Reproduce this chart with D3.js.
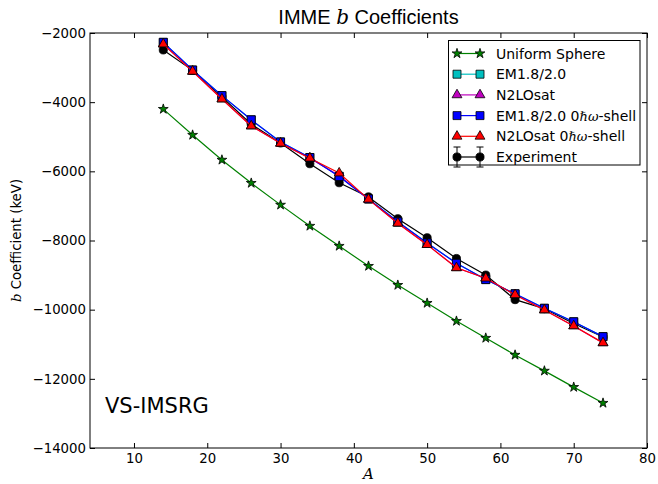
<!DOCTYPE html>
<html><head><meta charset="utf-8">
<script src="https://cdn.jsdelivr.net/npm/d3@7"></script>
<style>body{margin:0;background:#fff} svg{display:block}</style>
</head><body><svg id="c" width="658" height="484"></svg>
<script>
const massNumbers = [14,18,22,26,30,34,38,42,46,50,54,58,62,66,70,74];
const uniformSphere = [-4200,-4950,-5670,-6340,-6970,-7580,-8160,-8740,-9290,-9810,-10330,-10820,-11310,-11770,-12240,-12700];
const em1820 = [-2270,-3070,-3810,-4510,-5150,-5600,-6140,-6800,-7460,-8070,-8660,-9130,-9540,-9960,-10350,-10780];
const n2losat = [-2320,-3110,-3910,-4690,-5190,-5620,-6130,-6810,-7500,-8120,-8790,-9090,-9570,-10010,-10470,-10960];
const em1820Shell = [-2270,-3070,-3810,-4510,-5150,-5600,-6150,-6800,-7460,-8070,-8660,-9130,-9540,-9960,-10350,-10780];
const n2losatShell = [-2320,-3110,-3910,-4690,-5190,-5620,-6050,-6810,-7500,-8120,-8790,-9090,-9570,-10010,-10470,-10960];
const experiment = [-2490,-3080,-3850,-4640,-5180,-5780,-6330,-6740,-7370,-7920,-8520,-9000,-9710,-9970,-10400,-10790];
const xTicks = [10,20,30,40,50,60,70,80];
const yTicks = [-14000,-12000,-10000,-8000,-6000,-4000,-2000];

const L = 90, R = 647, T = 33, B = 448;
const svg = d3.select('#c');
const x = d3.scaleLinear().domain([4,80]).range([L,R]);
const y = d3.scaleLinear().domain([-14000,-2000]).range([B,T]);
const fmt = d => String(d).replace('-', '\u2212');
const tickFont = 'DejaVu Sans';

const series = [
  {name:'Experiment', vals:experiment, color:'#000000', sym:d3.symbolCircle, size:52},
  {name:'Uniform Sphere', vals:uniformSphere, color:'#008000', sym:d3.symbolStar, size:30},
  {name:'EM1.8/2.0', vals:em1820, color:'#00bfbf', sym:d3.symbolSquare, size:64},
  {name:'N2LOsat', vals:n2losat, color:'#bf00bf', sym:d3.symbolTriangle, size:42},
  {name:'EM1.8/2.0 shell', vals:em1820Shell, color:'#0000ff', sym:d3.symbolSquare, size:64},
  {name:'N2LOsat shell', vals:n2losatShell, color:'#ff0000', sym:d3.symbolTriangle, size:42}
];

const plot = svg.append('g');
const line = d3.line().x((d,i)=>x(massNumbers[i])).y(d=>y(d));
series.forEach(s => {
  plot.append('path').attr('d', line(s.vals)).attr('fill','none')
    .attr('stroke', s.color).attr('stroke-width', 1.2);
  plot.selectAll(null).data(s.vals).enter().append('path')
    .attr('transform', (d,i)=>`translate(${x(massNumbers[i])},${y(d)})`)
    .attr('d', d3.symbol().type(s.sym).size(s.size))
    .attr('fill', s.color).attr('stroke', '#000').attr('stroke-width', 0.8);
});

// axes with inward ticks
function styleAxis(g){ g.select('.domain').remove(); g.selectAll('line').attr('stroke','#000');
  g.selectAll('text').attr('font-family', tickFont).attr('font-size', 13.3).attr('fill','#000'); }
svg.append('g').attr('transform',`translate(0,${B})`)
  .call(d3.axisBottom(x).tickValues(xTicks).tickSizeInner(-5).tickSizeOuter(0).tickPadding(6).tickFormat(fmt)).call(styleAxis);
svg.append('g').attr('transform',`translate(0,${T})`)
  .call(d3.axisTop(x).tickValues(xTicks).tickSizeInner(-5).tickSizeOuter(0).tickFormat('')).call(styleAxis);
svg.append('g').attr('transform',`translate(${L},0)`)
  .call(d3.axisLeft(y).tickValues(yTicks).tickSizeInner(-5).tickSizeOuter(0).tickPadding(4).tickFormat(fmt)).call(styleAxis);
svg.append('g').attr('transform',`translate(${R},0)`)
  .call(d3.axisRight(y).tickValues(yTicks).tickSizeInner(-5).tickSizeOuter(0).tickFormat('')).call(styleAxis);
svg.append('rect').attr('x',L).attr('y',T).attr('width',R-L).attr('height',B-T)
  .attr('fill','none').attr('stroke','#000').attr('stroke-width',1);

// title
const title = svg.append('text').attr('x',(L+R)/2).attr('y',24).attr('text-anchor','middle')
  .attr('font-family','Liberation Sans').attr('font-size',20);
title.append('tspan').text('IMME ');
title.append('tspan').attr('font-family','DejaVu Serif').attr('font-style','italic').text('b');
title.append('tspan').text(' Coefficients');

// axis labels
const yl = svg.append('text').attr('transform',`translate(21,${(T+B)/2}) rotate(-90)`)
  .attr('text-anchor','middle').attr('font-family',tickFont).attr('font-size',13.3);
yl.append('tspan').attr('font-family','DejaVu Serif').attr('font-style','italic').text('b');
yl.append('tspan').text(' Coefficient (keV)');
svg.append('text').attr('x',(L+R)/2).attr('y',479).attr('text-anchor','middle')
  .attr('font-family','DejaVu Serif').attr('font-style','italic').attr('font-size',15).text('A');

// annotation
svg.append('text').attr('x',105).attr('y',413).attr('font-family',tickFont).attr('font-size',21).text('VS-IMSRG');

// legend
const legendItems = [
  {label:['Uniform Sphere'], s:series[1]},
  {label:['EM1.8/2.0'], s:series[2]},
  {label:['N2LOsat'], s:series[3]},
  {label:['EM1.8/2.0 0','\u210F\u03C9','-shell'], s:series[4]},
  {label:['N2LOsat 0','\u210F\u03C9','-shell'], s:series[5]},
  {label:['Experiment'], s:series[0], err:true}
];
svg.append('rect').attr('x',448.5).attr('y',40.5).attr('width',191.5).attr('height',124.5)
  .attr('fill','#fff').attr('stroke','#000').attr('stroke-width',1);
legendItems.forEach((it,i) => {
  const cy = 53.5 + i*20.7;
  const g = svg.append('g');
  g.append('line').attr('x1',457).attr('x2',480).attr('y1',cy).attr('y2',cy)
    .attr('stroke',it.s.color).attr('stroke-width',1.2);
  [457,480].forEach(px => {
    if (it.err) {
      g.append('line').attr('x1',px).attr('x2',px).attr('y1',cy-10).attr('y2',cy+10).attr('stroke','#000');
      g.append('line').attr('x1',px-3.5).attr('x2',px+3.5).attr('y1',cy-10).attr('y2',cy-10).attr('stroke','#000');
      g.append('line').attr('x1',px-3.5).attr('x2',px+3.5).attr('y1',cy+10).attr('y2',cy+10).attr('stroke','#000');
    }
    g.append('path').attr('transform',`translate(${px},${cy})`)
      .attr('d', d3.symbol().type(it.s.sym).size(it.s.size))
      .attr('fill', it.s.color).attr('stroke','#000').attr('stroke-width',0.8);
  });
  const t = g.append('text').attr('x',496).attr('y',cy+5).attr('font-family',tickFont).attr('font-size',14);
  it.label.forEach((p,j) => {
    const ts = t.append('tspan').text(p);
    if (j===1) ts.attr('font-family','DejaVu Serif').attr('font-style','italic').attr('font-size',13);
  });
});
</script></body></html>
